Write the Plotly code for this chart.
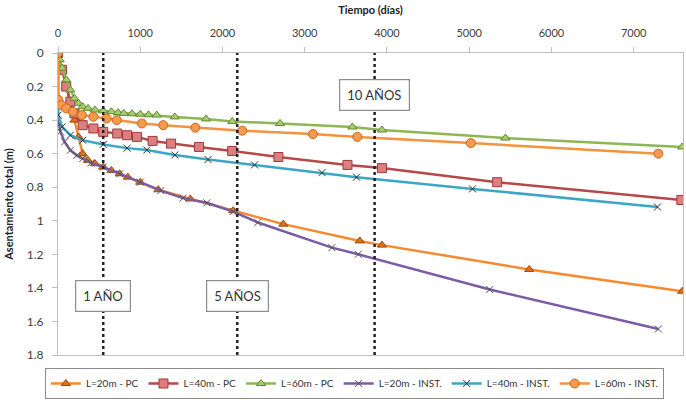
import plotly.graph_objects as go

# Asentamiento total vs tiempo para distintas longitudes de columna
dias_20_pc = [0, 50, 100, 150, 200, 250, 300, 365, 450, 550, 650, 750, 850, 1000,
              1220, 1610, 2130, 2740, 3670, 3940, 5730, 7590]
asent_20_pc = [0, 0.10, 0.20, 0.30, 0.40, 0.50, 0.60, 0.64, 0.66, 0.68, 0.70, 0.72, 0.74, 0.77,
               0.815, 0.87, 0.94, 1.02, 1.12, 1.145, 1.29, 1.42]

dias_40_pc = [0, 50, 100, 150, 200, 300, 430, 550, 720, 840, 960, 1150, 1375, 1715,
              2117, 2680, 3520, 3940, 5340, 7580]
asent_40_pc = [0, 0.10, 0.20, 0.29, 0.36, 0.43, 0.45, 0.47, 0.48, 0.49, 0.50, 0.524, 0.54, 0.56,
               0.584, 0.62, 0.667, 0.686, 0.77, 0.876]

dias_60_pc = [0, 20, 50, 100, 150, 200, 250, 300, 365, 450, 550, 650, 730, 800, 900, 1000,
              1100, 1200, 1420, 1800, 2120, 2700, 3580, 3940, 5440, 7590]
asent_60_pc = [0, 0.04, 0.09, 0.16, 0.22, 0.27, 0.30, 0.32, 0.33, 0.34, 0.345, 0.35, 0.355,
               0.36, 0.362, 0.365, 0.368, 0.370, 0.381, 0.393, 0.408, 0.420, 0.441, 0.459,
               0.507, 0.560]

dias_20_inst = [0, 1, 30, 80, 150, 230, 300, 400, 550, 750, 1000, 1250, 1520, 1810, 2130,
                2430, 3330, 3650, 5250, 7300]
asent_20_inst = [0, 0.40, 0.47, 0.53, 0.58, 0.61, 0.63, 0.655, 0.68, 0.72, 0.77, 0.82, 0.865,
                 0.893, 0.945, 1.01, 1.16, 1.20, 1.41, 1.645]

dias_40_inst = [0, 1, 50, 150, 300, 550, 840, 1080, 1420, 1825, 2390, 3210, 3630, 5040, 7290]
asent_40_inst = [0, 0.37, 0.44, 0.49, 0.52, 0.545, 0.567, 0.578, 0.608, 0.635, 0.667, 0.713,
                 0.74, 0.81, 0.918]

dias_60_inst = [0, 5, 40, 100, 180, 290, 430, 590, 715, 1020, 1280, 1670, 2240, 3100, 3640,
                5020, 7300]
asent_60_inst = [0, 0.28, 0.31, 0.33, 0.35, 0.37, 0.38, 0.39, 0.40, 0.42, 0.43, 0.445, 0.463,
                 0.483, 0.50, 0.537, 0.60]

# Hitos temporales marcados con líneas verticales
hitos_dias = [550, 2180, 3850]
hitos_texto = ["1 AÑO", "5 AÑOS", "10 AÑOS"]
hitos_y = [1.448, 1.448, 0.253]

series = [
    ("L=20m - PC", dias_20_pc, asent_20_pc, "#F58A2E",
     dict(symbol="triangle-up", size=8, color="#E0701A", line=dict(color="#9a4a10", width=1))),
    ("L=40m - PC", dias_40_pc, asent_40_pc, "#B6484A",
     dict(symbol="square", size=9, color="#DD7E80", line=dict(color="#A03A3C", width=1))),
    ("L=60m - PC", dias_60_pc, asent_60_pc, "#8DB654",
     dict(symbol="triangle-up", size=8, color="#A8CC70", line=dict(color="#5E8A2E", width=1))),
    ("L=20m - INST.", dias_20_inst, asent_20_inst, "#7A5CA6",
     dict(symbol="x-thin", size=7, color="#555555", line=dict(color="#555555", width=1))),
    ("L=40m - INST.", dias_40_inst, asent_40_inst, "#3EA6C4",
     dict(symbol="x-thin", size=7, color="#333333", line=dict(color="#333333", width=1))),
    ("L=60m - INST.", dias_60_inst, asent_60_inst, "#F5923E",
     dict(symbol="circle", size=9, color="#F59A4E", line=dict(color="#C8691E", width=1))),
]

fig = go.Figure()
for nombre, x, y, color, marker in series:
    fig.add_trace(go.Scatter(
        x=x, y=y, name=nombre, mode="lines+markers",
        line=dict(color=color, width=2.5),
        marker=marker,
    ))

for d, txt, yv in zip(hitos_dias, hitos_texto, hitos_y):
    fig.add_shape(type="line", xref="x", yref="paper", x0=d, x1=d, y0=0, y1=1,
                  line=dict(color="#222222", width=2.5, dash="dot"), layer="above")
    fig.add_annotation(x=d, y=yv, xref="x", yref="y", text=txt, showarrow=False,
                       font=dict(family="Lato, 'Open Sans', sans-serif", size=13, color="#333333"),
                       bgcolor="white", bordercolor="#8c8c8c", borderwidth=1.2,
                       borderpad=7)

fig.update_layout(
    width=686, height=403,
    margin=dict(l=58, r=3, t=53, b=48),
    paper_bgcolor="white", plot_bgcolor="white",
    font=dict(family="Lato, 'Open Sans', sans-serif", size=11, color="#404040"),
    showlegend=True,
    legend=dict(orientation="h", x=-0.021, y=-0.043, xanchor="left", yanchor="top",
                bordercolor="#8c8c8c", borderwidth=1, font=dict(size=10, color="#333333"),
                itemwidth=30, tracegroupgap=0),
    xaxis=dict(
        side="top", range=[0, 7600], dtick=1000, tick0=0,
        showgrid=False, zeroline=False,
        showline=True, linecolor="#bfbfbf", linewidth=1, mirror=True,
        ticks="outside", ticklen=5, tickcolor="#bfbfbf", ticklabelstandoff=6,
        title=dict(text="<b>Tiempo (días)</b>", font=dict(size=11, color="#222222"), standoff=8),
    ),
    yaxis=dict(
        range=[1.8, 0], dtick=0.2, tick0=0,
        showgrid=False, zeroline=False,
        showline=True, linecolor="#bfbfbf", linewidth=1, mirror=True,
        ticks="outside", ticklen=5, tickcolor="#bfbfbf", ticklabelstandoff=6,
        tickfont=dict(size=12),
        title=dict(text="<b>Asentamiento total (m)</b>", font=dict(size=11, color="#222222"),
                   standoff=10),
    ),
)

fig.write_html("out.html")
